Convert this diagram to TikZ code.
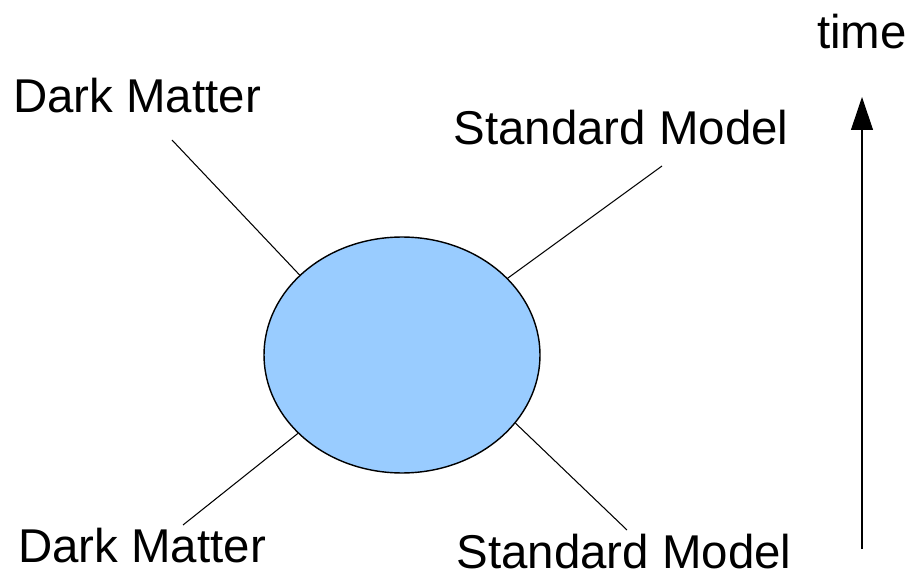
\documentclass[tikz,border=0pt]{standalone}
\usepackage{fontspec}
\setmainfont{Liberation Sans}
\usepackage{tikz}
\usetikzlibrary{shapes.geometric, arrows.meta, positioning}

\definecolor{blobblue}{HTML}{99CCFF}

\begin{document}
\begin{tikzpicture}[
    x=0.02cm, y=-0.02cm,
    >={Triangle[length=0.66cm, width=0.44cm]},
    label/.style={font=\fontsize{27}{32}\selectfont, inner sep=0pt},
    leg/.style={draw, line width=0.6pt}
]

\useasboundingbox (0,0) rectangle (916,577);

% the interaction vertex
\node[ellipse, draw, line width=0.8pt, fill=blobblue, minimum width=5.52cm, minimum height=4.72cm, inner sep=0pt] (blob) at (402,355) {};

% particle labels
\node[label] (dmin) at (142,546) {Dark Matter};
\node[label] (dmout) at (137,96) {Dark Matter};
\node[label] (smin) at (624,552) {Standard Model};
\node[label] (smout) at (621,128) {Standard Model};
\node[label] (time) at (862,32) {time};

% free ends of the legs
\coordinate (dmoutend) at (172,140);
\coordinate (smoutend) at (662,166);
\coordinate (dminend) at (183,525);
\coordinate (sminend) at (627,530);

\draw[leg] (dmoutend) -- (blob.142);
\draw[leg] (smoutend) -- (blob.36);
\draw[leg] (dminend) -- (blob.217);
\draw[leg] (sminend) -- (blob.-31);

% time axis
\coordinate (tbot) at (862,549);
\coordinate (ttop) at (862,97);
\draw[->, line width=0.6pt] (tbot) -- (ttop);

\end{tikzpicture}
\end{document}
